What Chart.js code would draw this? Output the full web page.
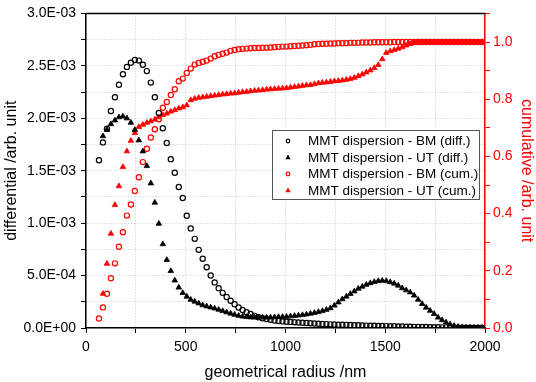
<!DOCTYPE html>
<html>
<head>
<meta charset="utf-8">
<script src="https://cdn.jsdelivr.net/npm/chart.js@4"></script>
<style>
  html, body { margin: 0; padding: 0; background: #fff; }
  #wrap { width: 536px; height: 382px; }
</style>
</head>
<body>
<div id="wrap"><canvas id="my-chart" width="536" height="382"></canvas></div>
<script>
// geometrical radius /nm
const radius = [
  65, 85, 105, 125, 145, 165, 185, 205, 225, 245,
  265, 285, 305, 325, 345, 365, 385, 405, 425, 445,
  465, 485, 505, 525, 545, 565, 585, 605, 625, 645,
  665, 685, 705, 725, 745, 765, 785, 805, 825, 845,
  865, 885, 905, 925, 945, 965, 985, 1005, 1025, 1045,
  1065, 1085, 1105, 1125, 1145, 1165, 1185, 1205, 1225, 1245,
  1265, 1285, 1305, 1325, 1345, 1365, 1385, 1405, 1425, 1445,
  1465, 1485, 1505, 1525, 1545, 1565, 1585, 1605, 1625, 1645,
  1665, 1685, 1705, 1725, 1745, 1765, 1785, 1805, 1825, 1845,
  1865, 1885, 1905, 1925, 1945, 1965, 1985
];

// differential, in units of 1E-03
const bmDiff = [
  1.60, 1.77, 1.90, 2.07, 2.20, 2.32, 2.42, 2.49, 2.53, 2.555,
  2.55, 2.51, 2.45, 2.34, 2.20, 2.05, 1.905, 1.765, 1.61, 1.48,
  1.345, 1.24, 1.07, 0.95, 0.85, 0.745, 0.66, 0.58, 0.50, 0.435,
  0.38, 0.335, 0.295, 0.26, 0.227, 0.196, 0.172, 0.15, 0.133, 0.116,
  0.103, 0.093, 0.085, 0.078, 0.072, 0.067, 0.063, 0.06, 0.058, 0.055,
  0.052, 0.05, 0.047, 0.045, 0.043, 0.041, 0.039, 0.037, 0.035, 0.034,
  0.032, 0.031, 0.03, 0.028, 0.027, 0.026, 0.024, 0.023, 0.022, 0.021,
  0.02, 0.019, 0.018, 0.017, 0.016, 0.015, 0.014, 0.013, 0.012, 0.011,
  0.011, 0.01, 0.009, 0.008, 0.008, 0.007, 0.006, 0.006, 0.005, 0.005,
  0.004, 0.004, 0.003, 0.003, 0.002, 0.002, 0.002
];
const utDiff = [
  null, 1.83, 1.89, 1.945, 1.98, 2.01, 2.018, 2.0, 1.958, 1.89,
  1.79, 1.685, 1.545, 1.38, 1.196, 0.995, 0.80, 0.65, 0.544, 0.454,
  0.386, 0.335, 0.30, 0.27, 0.252, 0.235, 0.218, 0.207, 0.197, 0.187,
  0.175, 0.162, 0.15, 0.138, 0.127, 0.117, 0.11, 0.105, 0.102, 0.1,
  0.1, 0.1, 0.1, 0.101, 0.103, 0.105, 0.106, 0.108, 0.112, 0.116,
  0.12, 0.124, 0.13, 0.137, 0.145, 0.153, 0.162, 0.174, 0.19, 0.215,
  0.245, 0.275, 0.30, 0.325, 0.35, 0.375, 0.395, 0.413, 0.428, 0.44,
  0.448, 0.452, 0.448, 0.438, 0.424, 0.405, 0.38, 0.36, 0.34, 0.31,
  0.27, 0.23, 0.195, 0.165, 0.135, 0.10, 0.075, 0.053, 0.035, 0.022,
  0.013, 0.007, 0.004, 0.002, 0.001, 0.001, 0.0
];

// cumulative
const bmCum = [
  0.033, 0.072, 0.12, 0.174, 0.226, 0.284, 0.335, 0.393, 0.432, 0.479,
  0.527, 0.58, 0.627, 0.666, 0.695, 0.73, 0.77, 0.79, 0.815, 0.835,
  0.863, 0.872, 0.892, 0.907, 0.921, 0.927, 0.931, 0.935, 0.942, 0.95,
  0.955, 0.959, 0.963, 0.969, 0.972, 0.975, 0.976, 0.977, 0.978, 0.979,
  0.979, 0.98, 0.98, 0.981, 0.982, 0.983, 0.984, 0.984, 0.985, 0.986,
  0.987, 0.988, 0.989, 0.99, 0.992, 0.993, 0.994, 0.994, 0.995, 0.995,
  0.996, 0.996, 0.996, 0.997, 0.997, 0.997, 0.998, 0.998, 0.998, 0.999,
  0.999, 0.999, 0.999, 0.999, 1.0, 1.0, 1.0, 1.0, 1.0, 1.0,
  1.0, 1.0, 1.0, 1.0, 1.0, 1.0, 1.0, 1.0, 1.0, 1.0,
  1.0, 1.0, 1.0, 1.0, 1.0, 1.0, 1.0
];
const utCum = [
  null, 0.12, 0.225, 0.33, 0.43, 0.496, 0.563, 0.618, 0.655, 0.682,
  0.703, 0.711, 0.718, 0.723, 0.729, 0.737, 0.745, 0.75, 0.757, 0.762,
  0.768, 0.772, 0.779, 0.797, 0.802, 0.805, 0.807, 0.809, 0.811, 0.813,
  0.815, 0.817, 0.818, 0.82, 0.821, 0.823, 0.825, 0.826, 0.828, 0.83,
  0.831, 0.832, 0.834, 0.835, 0.836, 0.837, 0.838, 0.839, 0.841, 0.843,
  0.845, 0.847, 0.849, 0.85, 0.853, 0.856, 0.858, 0.859, 0.861, 0.863,
  0.864, 0.866, 0.868, 0.871, 0.875, 0.881, 0.887, 0.894, 0.901, 0.909,
  0.92, 0.94, 0.962, 0.968, 0.972, 0.977, 0.982, 0.988, 0.993, 0.998,
  1.0, 1.0, 1.0, 1.0, 1.0, 1.0, 1.0, 1.0, 1.0, 1.0,
  1.0, 1.0, 1.0, 1.0, 1.0, 1.0, 1.0
];

const seriesLabels = [
  'MMT dispersion - BM (diff.)',
  'MMT dispersion - UT (diff.)',
  'MMT dispersion - BM (cum.)',
  'MMT dispersion - UT (cum.)'
];

const FONT = "'Liberation Sans', Arial, sans-serif";
const RED = '#ff0000';

function toPoints(values, factor) {
  const pts = [];
  values.forEach((v, i) => {
    if (v !== null) pts.push({ x: radius[i], y: v * factor });
  });
  return pts;
}

// 3.0E-03 style labels
function sci(v) {
  if (Math.abs(v) < 1e-12) return '0.0E+00';
  const e = Math.floor(Math.log10(Math.abs(v)) + 1e-9);
  const m = v / Math.pow(10, e);
  return m.toFixed(1) + 'E' + (e < 0 ? '-' : '+') + String(Math.abs(e)).padStart(2, '0');
}

function drawMark(ctx, style, x, y, color, r) {
  ctx.beginPath();
  if (style === 'triangle') {
    ctx.moveTo(x, y - r);
    ctx.lineTo(x + r * 0.9, y + r * 0.6);
    ctx.lineTo(x - r * 0.9, y + r * 0.6);
    ctx.closePath();
    ctx.fillStyle = color;
    ctx.fill();
  } else {
    ctx.arc(x, y, r, 0, Math.PI * 2);
    ctx.strokeStyle = color;
    ctx.lineWidth = 1.2;
    ctx.stroke();
  }
}

const legendBox = {
  id: 'legendBox',
  afterDraw(chart) {
    const ctx = chart.ctx;
    const x0 = 272, y0 = 130, w = 207, h = 69;
    ctx.save();
    ctx.fillStyle = '#fff';
    ctx.fillRect(x0, y0, w, h);
    ctx.strokeStyle = '#555';
    ctx.lineWidth = 1;
    ctx.strokeRect(x0 + 0.5, y0 + 0.5, w, h);
    ctx.font = '13.5px ' + FONT;
    ctx.textBaseline = 'middle';
    ctx.textAlign = 'left';
    chart.data.datasets.forEach((ds, i) => {
      const y = y0 + 11 + i * 16.5;
      drawMark(ctx, ds.pointStyle, 288, y, ds.pointBorderColor, ds.pointStyle === 'triangle' ? 3 : 1.8);
      ctx.fillStyle = '#000';
      ctx.fillText(ds.label, 308, y + 0.5);
    });
    ctx.restore();
  }
};

const topBorder = {
  id: 'topBorder',
  afterDraw(chart) {
    const { ctx, chartArea } = chart;
    ctx.save();
    ctx.strokeStyle = '#000';
    ctx.lineWidth = 1.5;
    ctx.beginPath();
    ctx.moveTo(chartArea.left, chartArea.top);
    ctx.lineTo(chartArea.right + 0.75, chartArea.top);
    ctx.stroke();
    ctx.restore();
  }
};

const ctx = document.getElementById('my-chart');
const myChart = new Chart(ctx, {
  type: 'scatter',
  data: {
    datasets: [
      {
        label: seriesLabels[0],
        data: toPoints(bmDiff, 1e-3),
        yAxisID: 'y',
        pointStyle: 'circle',
        pointRadius: 2.6,
        pointBorderWidth: 1.2,
        pointBorderColor: '#000',
        pointBackgroundColor: 'rgba(0,0,0,0)'
      },
      {
        label: seriesLabels[1],
        data: toPoints(utDiff, 1e-3),
        yAxisID: 'y',
        pointStyle: 'triangle',
        pointRadius: 3.2,
        pointBorderWidth: 0.8,
        pointBorderColor: '#000',
        pointBackgroundColor: '#000'
      },
      {
        label: seriesLabels[2],
        data: toPoints(bmCum, 1),
        yAxisID: 'y1',
        pointStyle: 'circle',
        pointRadius: 2.6,
        pointBorderWidth: 1.2,
        pointBorderColor: RED,
        pointBackgroundColor: 'rgba(0,0,0,0)'
      },
      {
        label: seriesLabels[3],
        data: toPoints(utCum, 1),
        yAxisID: 'y1',
        pointStyle: 'triangle',
        pointRadius: 3.2,
        pointBorderWidth: 0.8,
        pointBorderColor: RED,
        pointBackgroundColor: RED
      }
    ]
  },
  options: {
    responsive: false,
    animation: false,
    layout: { padding: { top: 8, left: 0, right: 0, bottom: 0 } },
    plugins: {
      legend: { display: false },
      tooltip: { enabled: false }
    },
    scales: {
      x: {
        type: 'linear',
        min: 0,
        max: 2000,
        afterFit: s => { s.height = 54; },
        border: { display: true, color: '#000', width: 1.5, dash: [1, 2] },
        grid: {
          color: '#c8c8c8',
          lineWidth: 1,
          tickColor: '#000',
          tickLength: 5,
          tickBorderDash: []
        },
        ticks: {
          stepSize: 250,
          autoSkip: false,
          maxRotation: 0,
          padding: 6,
          color: '#000',
          font: { family: FONT, size: 14 },
          callback: v => (v % 500 === 0 ? String(v) : '')
        },
        title: {
          display: true,
          text: 'geometrical radius /nm',
          color: '#000',
          font: { family: FONT, size: 16 },
          padding: { top: 0, bottom: 0 }
        }
      },
      y: {
        position: 'left',
        min: 0,
        max: 3e-3,
        afterFit: s => { s.width = 86; },
        border: { display: true, color: '#000', width: 1.5, dash: [1, 2] },
        grid: {
          color: '#c8c8c8',
          lineWidth: 1,
          tickColor: '#000',
          tickLength: 5,
          tickBorderDash: []
        },
        ticks: {
          stepSize: 2.5e-4,
          autoSkip: false,
          padding: 5,
          color: '#000',
          font: { family: FONT, size: 14 },
          callback: v => (Math.round(v / 2.5e-4) % 2 === 0 ? sci(v) : '')
        },
        title: {
          display: true,
          text: 'differential /arb. unit',
          color: '#000',
          font: { family: FONT, size: 16 },
          padding: { top: 2, bottom: 0 }
        }
      },
      y1: {
        position: 'right',
        min: 0,
        max: 1.1,
        afterFit: s => { s.width = 51; },
        border: { display: true, color: RED, width: 1.5 },
        grid: {
          drawOnChartArea: false,
          color: RED,
          tickColor: RED,
          tickLength: 5,
          tickBorderDash: []
        },
        ticks: {
          stepSize: 0.1,
          autoSkip: false,
          padding: 3,
          color: RED,
          font: { family: FONT, size: 14 },
          callback: v => (Math.round(v * 10) % 2 === 0 ? v.toFixed(1) : '')
        },
        title: {
          display: true,
          text: 'cumulative /arb. unit',
          color: RED,
          font: { family: FONT, size: 16 },
          padding: { top: 0, bottom: 0 }
        }
      }
    }
  },
  plugins: [topBorder, legendBox]
});
</script>
</body>
</html>
